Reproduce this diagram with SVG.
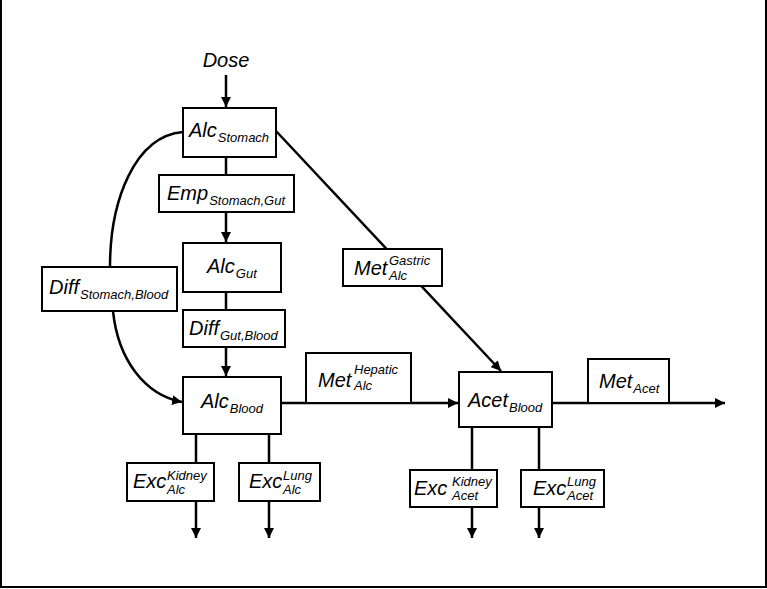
<svg xmlns="http://www.w3.org/2000/svg" width="767" height="589" viewBox="0 0 767 589">
<style>
  .box { fill: #fff; stroke: #000; stroke-width: 2; }
  .ln { fill: none; stroke: #000; stroke-width: 2.5; }
  text { font-family: "Liberation Sans", Arial, sans-serif; font-style: italic; font-size: 20px; fill: #000; }
  .s { font-size: 13px; }
</style>
<defs>
  <marker id="ah" viewBox="0 0 10 10" refX="10" refY="5" markerWidth="4" markerHeight="4" orient="auto" markerUnits="strokeWidth">
    <path d="M0,0 L10,5 L0,10 z" fill="#000"/>
  </marker>
</defs>
<rect x="0" y="0" width="767" height="589" fill="#fff"/>
<path d="M1,0 V587 H766 V0" fill="none" stroke="#000" stroke-width="2"/>

<g id="connectors">
  <path class="ln" d="M226,75 V107" marker-end="url(#ah)"/>
  <path class="ln" d="M226,157 V242" marker-end="url(#ah)"/>
  <path class="ln" d="M226,292 V376" marker-end="url(#ah)"/>
  <path class="ln" d="M183,132 C135,136 110,200 110,267 L113,311 C118,360 145,395 182,402" marker-end="url(#ah)"/>
  <path class="ln" d="M276,131 L501,371" marker-end="url(#ah)"/>
  <path class="ln" d="M281,403 H458" marker-end="url(#ah)"/>
  <path class="ln" d="M552,403 H725" marker-end="url(#ah)"/>
  <path class="ln" d="M196,434 V538" marker-end="url(#ah)"/>
  <path class="ln" d="M269,434 V538" marker-end="url(#ah)"/>
  <path class="ln" d="M472,427 V538" marker-end="url(#ah)"/>
  <path class="ln" d="M539,427 V538" marker-end="url(#ah)"/>
</g>

<g id="dose"><text x="226" y="67" text-anchor="middle">Dose</text></g>

<g id="alc-stomach">
  <rect class="box" x="183" y="108" width="93" height="49"/>
  <text x="189" y="137">Alc<tspan class="s" dx="1" y="142">Stomach</tspan></text>
</g>
<g id="emp-stomach-gut">
  <rect class="box" x="159" y="175" width="135" height="37"/>
  <text x="167" y="200">Emp<tspan class="s" dx="1" y="205">Stomach,Gut</tspan></text>
</g>
<g id="alc-gut">
  <rect class="box" x="183" y="243" width="98" height="49"/>
  <text x="207" y="273">Alc<tspan class="s" dx="1" y="278">Gut</tspan></text>
</g>
<g id="diff-gut-blood">
  <rect class="box" x="183" y="310" width="102" height="37"/>
  <text x="189" y="335">Diff<tspan class="s" dx="1" y="340">Gut,Blood</tspan></text>
</g>
<g id="diff-stomach-blood">
  <rect class="box" x="42" y="267" width="135" height="44"/>
  <text x="49" y="294">Diff<tspan class="s" dx="1" y="299">Stomach,Blood</tspan></text>
</g>
<g id="alc-blood">
  <rect class="box" x="183" y="377" width="98" height="57"/>
  <text x="201" y="408">Alc<tspan class="s" dx="1" y="413">Blood</tspan></text>
</g>
<g id="met-alc-gastric">
  <rect class="box" x="343" y="249" width="99" height="37"/>
  <text x="354" y="275">Met</text>
  <text class="s" x="389" y="265">Gastric</text>
  <text class="s" x="389" y="280">Alc</text>
</g>
<g id="met-alc-hepatic">
  <rect class="box" x="306" y="353" width="105" height="50"/>
  <text x="318" y="387">Met</text>
  <text class="s" x="354" y="374">Hepatic</text>
  <text class="s" x="354" y="390">Alc</text>
</g>
<g id="acet-blood">
  <rect class="box" x="459" y="372" width="93" height="55"/>
  <text x="468" y="407">Acet<tspan class="s" dx="1" y="412">Blood</tspan></text>
</g>
<g id="met-acet">
  <rect class="box" x="588" y="359" width="81" height="44"/>
  <text x="599" y="388">Met<tspan class="s" dx="1" y="393">Acet</tspan></text>
</g>
<g id="exc-alc-kidney">
  <rect class="box" x="127" y="463" width="87" height="38"/>
  <text x="133" y="488">Exc</text>
  <text class="s" x="167" y="480">Kidney</text>
  <text class="s" x="167" y="494">Alc</text>
</g>
<g id="exc-alc-lung">
  <rect class="box" x="239" y="463" width="81" height="38"/>
  <text x="249" y="488">Exc</text>
  <text class="s" x="283" y="480">Lung</text>
  <text class="s" x="283" y="494">Alc</text>
</g>
<g id="exc-acet-kidney">
  <rect class="box" x="410" y="470" width="87" height="37"/>
  <text x="414" y="495">Exc</text>
  <text class="s" x="452" y="486">Kidney</text>
  <text class="s" x="452" y="500">Acet</text>
</g>
<g id="exc-acet-lung">
  <rect class="box" x="521" y="470" width="83" height="37"/>
  <text x="533" y="495">Exc</text>
  <text class="s" x="567" y="486">Lung</text>
  <text class="s" x="567" y="500">Acet</text>
</g>
</svg>
